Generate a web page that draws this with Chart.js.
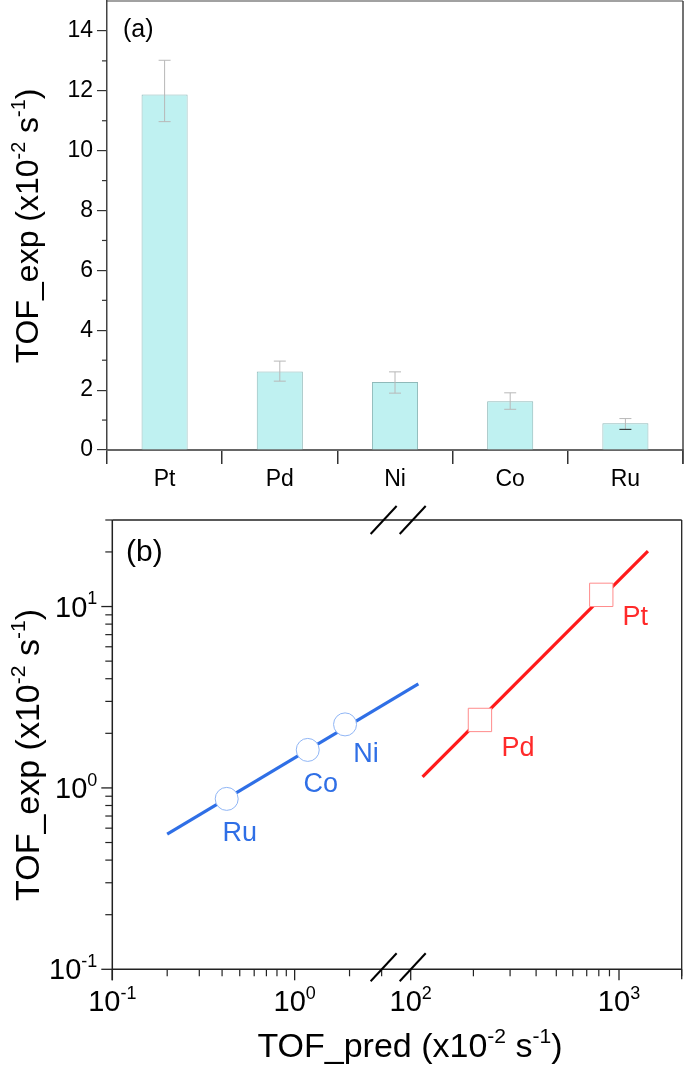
<!DOCTYPE html>
<html>
<head>
<meta charset="utf-8">
<script src="https://cdn.jsdelivr.net/npm/chart.js@4.4.1/dist/chart.umd.min.js"></script>
<style>
  html, body { margin: 0; padding: 0; background: #fff; }
  #wrap { position: relative; width: 685px; height: 1066px; }
  #cA { position: absolute; left: 0; top: 0; }
  #cB { position: absolute; left: 0; top: 500px; }
</style>
</head>
<body>
<div id="wrap">
  <canvas id="cA" width="685" height="500"></canvas>
  <canvas id="cB" width="685" height="566"></canvas>
</div>
<script>
// Painel (a): TOF experimental por metal
const metais = ['Pt', 'Pd', 'Ni', 'Co', 'Ru'];
const tofExp = [11.88, 2.62, 2.27, 1.63, 0.89];
const erroSup = [13.02, 2.97, 2.61, 1.91, 1.05];
const erroInf = [10.97, 2.30, 1.90, 1.36, 0.69];
const ticksA = [0, 2, 4, 6, 8, 10, 12, 14];
const ticksMenoresA = [1, 3, 5, 7, 9, 11, 13];

// Painel (b): TOF experimental x previsto (log-log, eixo x quebrado)
const nomesAzul = ['Ru', 'Co', 'Ni'];
const predAzul = [0.424, 1.18, 1.89];
const expAzul = [0.87, 1.62, 2.24];
const nomesVerm = ['Pd', 'Pt'];
const predVerm = [215, 822];
const expVerm = [2.37, 11.6];
const retaAzulX = [0.2, 4.77];
const retaAzulY = [0.557, 3.75];
const retaVermX = [114, 1377];
const retaVermY = [1.15, 20.2];
const decadasY = [0.1, 1, 10];
const expoentesY = ['-1', '0', '1'];
const decadasXesq = [0.1, 1];
const expoentesXesq = ['-1', '0'];
const decadasXdir = [100, 1000];
const expoentesXdir = ['2', '3'];

const FONTE = '"Liberation Sans", Arial, Helvetica, sans-serif';
const fonte = tam => `${tam}px ${FONTE}`;

// escreve texto com sobrescritos: partes = [[texto, sobrescrito?], ...]
function escreveSup(ctx, partes, x, y, tam, alinhamento) {
    const tamSup = tam * 0.62;
    let largura = 0;
    partes.forEach(([t, s]) => {
        ctx.font = fonte(s ? tamSup : tam);
        largura += ctx.measureText(t).width;
    });
    let x0 = x;
    if (alinhamento === 'center') x0 = x - largura / 2;
    if (alinhamento === 'right') x0 = x - largura;
    ctx.textAlign = 'left';
    ctx.textBaseline = 'alphabetic';
    partes.forEach(([t, s]) => {
        ctx.font = fonte(s ? tamSup : tam);
        ctx.fillText(t, x0, s ? y - tam * 0.42 : y);
        x0 += ctx.measureText(t).width;
    });
}

function linha(ctx, x1, y1, x2, y2, cor, larg) {
    ctx.beginPath();
    ctx.strokeStyle = cor;
    ctx.lineWidth = larg;
    ctx.moveTo(x1, y1);
    ctx.lineTo(x2, y2);
    ctx.stroke();
}

const tituloExp = [['TOF_exp (x10', false], ['-2', true], [' s', false], ['-1', true], [')', false]];
const tituloPred = [['TOF_pred (x10', false], ['-2', true], [' s', false], ['-1', true], [')', false]];

// ---------- Gráfico (a) ----------
const extrasA = {
    id: 'extrasA',
    afterDraw(chart) {
        const ctx = chart.ctx;
        const area = chart.chartArea;
        const y = chart.scales.y;
        ctx.save();
        // moldura
        linha(ctx, area.left, area.top, area.right, area.top, '#444', 1.2);
        linha(ctx, area.right, area.top, area.right, area.bottom + 14, '#444', 1.5);
        // ticks menores
        ticksMenoresA.forEach(v => {
            const py = y.getPixelForValue(v);
            linha(ctx, area.left - 5, py, area.left, py, '#333', 1.2);
        });
        // barras de erro
        const meta = chart.getDatasetMeta(0);
        meta.data.forEach((barra, i) => {
            const yS = y.getPixelForValue(erroSup[i]);
            const yI = y.getPixelForValue(erroInf[i]);
            linha(ctx, barra.x, yS, barra.x, yI, '#b8b8b8', 1);
            linha(ctx, barra.x - 6, yS, barra.x + 6, yS, '#b8b8b8', 1);
            linha(ctx, barra.x - 6, yI, barra.x + 6, yI, i === 4 ? '#222' : '#b8b8b8', 1);
        });
        // rótulos
        ctx.fillStyle = '#000';
        ctx.font = fonte(25);
        ctx.textAlign = 'left';
        ctx.textBaseline = 'alphabetic';
        ctx.fillText('(a)', 123, 37);
        ctx.translate(38, 226);
        ctx.rotate(-Math.PI / 2);
        escreveSup(ctx, tituloExp, 0, 0, 32, 'center');
        ctx.restore();
    }
};

new Chart(document.getElementById('cA'), {
    type: 'bar',
    data: {
        labels: metais,
        datasets: [{
            data: tofExp,
            backgroundColor: '#bff1f1',
            borderColor: '#8fb9b9',
            borderWidth: 1,
            barPercentage: 0.4,
            categoryPercentage: 1
        }]
    },
    options: {
        responsive: false,
        animation: false,
        layout: { autoPadding: false, padding: { top: 1, right: 2, left: 0, bottom: 0 } },
        plugins: { legend: { display: false }, tooltip: { enabled: false } },
        scales: {
            x: {
                offset: true,
                grid: { display: true, drawOnChartArea: false, offset: true, tickLength: 14, color: '#333', lineWidth: 1.5 },
                border: { display: true, color: '#666', width: 2 },
                ticks: { color: '#000', font: { family: FONTE, size: 23 }, padding: 2 },
                afterFit: s => { s.height = 50; s.paddingLeft = 0; s.paddingRight = 0; }
            },
            y: {
                min: 0,
                max: 15,
                afterBuildTicks: s => { s.ticks = ticksA.map(v => ({ value: v })); },
                grid: { display: true, drawOnChartArea: false, tickLength: 10, color: '#333', lineWidth: 1.2 },
                border: { display: true, color: '#444', width: 1.5 },
                ticks: { color: '#000', font: { family: FONTE, size: 23 }, padding: 4 },
                afterFit: s => { s.width = 107; s.paddingTop = 0; s.paddingBottom = 0; }
            }
        }
    },
    plugins: [extrasA]
});

// ---------- Gráfico (b) ----------
const menores = (decadas, ate) => {
    const lista = [];
    decadas.forEach(d => {
        for (let k = 2; k <= 9; k++) if (d * k <= ate * 1.0001) lista.push(d * k);
    });
    return lista;
};

const extrasB = {
    id: 'extrasB',
    afterDraw(chart) {
        const ctx = chart.ctx;
        const area = chart.chartArea;
        const y = chart.scales.y;
        const xL = chart.scales.xL;
        const xR = chart.scales.xR;
        ctx.save();
        // eixos e moldura
        linha(ctx, area.left, area.top, area.right, area.top, '#222', 1.3);
        linha(ctx, area.right, area.top, area.right, area.bottom + 10, '#222', 1.3);
        linha(ctx, area.left, area.top, area.left, area.bottom + 11, '#222', 1.5);
        linha(ctx, area.left, area.bottom, area.right, area.bottom, '#222', 1.5);
        // ticks eixo y
        decadasY.forEach(v => {
            const py = y.getPixelForValue(v);
            linha(ctx, area.left - 11, py, area.left, py, '#222', 1.3);
        });
        menores(decadasY, 30).forEach(v => {
            const py = y.getPixelForValue(v);
            linha(ctx, area.left - 7, py, area.left, py, '#222', 1.2);
        });
        // ticks eixo x (dois segmentos)
        decadasXesq.forEach(v => {
            const px = xL.getPixelForValue(v);
            linha(ctx, px, area.bottom, px, area.bottom + 11, '#222', 1.3);
        });
        menores(decadasXesq, 3).forEach(v => {
            const px = xL.getPixelForValue(v);
            linha(ctx, px, area.bottom, px, area.bottom + 7, '#222', 1.2);
        });
        decadasXdir.forEach(v => {
            const px = xR.getPixelForValue(v);
            linha(ctx, px, area.bottom, px, area.bottom + 11, '#222', 1.3);
        });
        menores(decadasXdir, 2000).forEach(v => {
            const px = xR.getPixelForValue(v);
            linha(ctx, px, area.bottom, px, area.bottom + 7, '#222', 1.2);
        });
        // marcas de quebra
        const q1 = xL.getPixelForValue(3) + 2;
        const q2 = xR.getPixelForValue(100) + 2;
        [area.top, area.bottom - 2].forEach(cy => {
            [q1, q2].forEach(cx => linha(ctx, cx - 13, cy + 14, cx + 13, cy - 14, '#000', 2));
        });
        // rótulos dos ticks
        ctx.fillStyle = '#000';
        decadasY.forEach((v, i) => {
            escreveSup(ctx, [['10', false], [expoentesY[i], true]], area.left - 15, y.getPixelForValue(v) + 10, 29, 'right');
        });
        decadasXesq.forEach((v, i) => {
            escreveSup(ctx, [['10', false], [expoentesXesq[i], true]], xL.getPixelForValue(v), area.bottom + 42, 29, 'center');
        });
        decadasXdir.forEach((v, i) => {
            escreveSup(ctx, [['10', false], [expoentesXdir[i], true]], xR.getPixelForValue(v), area.bottom + 42, 29, 'center');
        });
        // rótulos dos pontos
        ctx.font = fonte(27);
        ctx.textAlign = 'center';
        ctx.textBaseline = 'alphabetic';
        const desvAzul = [[13, 42], [13, 42], [21, 38]];
        const desvVerm = [[38, 36], [34, 30]];
        ctx.fillStyle = '#2f6fe6';
        chart.getDatasetMeta(0).data.forEach((p, i) => {
            ctx.fillText(nomesAzul[i], p.x + desvAzul[i][0], p.y + desvAzul[i][1]);
        });
        ctx.fillStyle = '#ff2a2a';
        chart.getDatasetMeta(1).data.forEach((p, i) => {
            ctx.fillText(nomesVerm[i], p.x + desvVerm[i][0], p.y + desvVerm[i][1]);
        });
        // títulos
        ctx.fillStyle = '#000';
        ctx.font = fonte(30);
        ctx.textAlign = 'left';
        ctx.fillText('(b)', 126, area.top + 41);
        escreveSup(ctx, tituloPred, 410, 557, 34, 'center');
        ctx.translate(39, 255);
        ctx.rotate(-Math.PI / 2);
        escreveSup(ctx, tituloExp, 0, 0, 34, 'center');
        ctx.restore();
    }
};

const pontos = (xs, ys) => xs.map((x, i) => ({ x: x, y: ys[i] }));

new Chart(document.getElementById('cB'), {
    type: 'scatter',
    data: {
        datasets: [
            {
                data: pontos(predAzul, expAzul),
                xAxisID: 'xL',
                pointStyle: 'circle',
                pointRadius: 11.5,
                pointBackgroundColor: '#fff',
                pointBorderColor: '#8fb5f5',
                pointBorderWidth: 1,
                showLine: false
            },
            {
                data: pontos(predVerm, expVerm),
                xAxisID: 'xR',
                pointStyle: 'rect',
                pointRadius: 16.5,
                pointBackgroundColor: '#fff',
                pointBorderColor: '#ff8c8c',
                pointBorderWidth: 1,
                showLine: false
            },
            {
                data: pontos(retaAzulX, retaAzulY),
                xAxisID: 'xL',
                showLine: true,
                clip: false,
                borderColor: '#2f6fe6',
                borderWidth: 3.2,
                pointRadius: 0
            },
            {
                data: pontos(retaVermX, retaVermY),
                xAxisID: 'xR',
                showLine: true,
                borderColor: '#ff1a1a',
                borderWidth: 3.2,
                pointRadius: 0
            }
        ]
    },
    options: {
        responsive: false,
        animation: false,
        layout: { autoPadding: false, padding: { top: 20, right: 3.3, left: 0, bottom: 0 } },
        plugins: { legend: { display: false }, tooltip: { enabled: false } },
        scales: {
            xL: {
                type: 'logarithmic', axis: 'x', position: 'bottom',
                stack: 'xquebrado', stackWeight: 298.4,
                min: 0.1, max: 4.33,
                grid: { display: false }, border: { display: false }, ticks: { display: false },
                afterFit: s => { s.height = 96.7; s.paddingLeft = 0; s.paddingRight = 0; }
            },
            xR: {
                type: 'logarithmic', axis: 'x', position: 'bottom',
                stack: 'xquebrado', stackWeight: 271,
                min: 100, max: 2000,
                grid: { display: false }, border: { display: false }, ticks: { display: false },
                afterFit: s => { s.height = 96.7; s.paddingLeft = 0; s.paddingRight = 0; }
            },
            y: {
                type: 'logarithmic',
                min: 0.1, max: 30,
                grid: { display: false }, border: { display: false }, ticks: { display: false },
                afterFit: s => { s.width = 112.3; s.paddingTop = 0; s.paddingBottom = 0; }
            }
        }
    },
    plugins: [extrasB]
});
</script>
</body>
</html>
